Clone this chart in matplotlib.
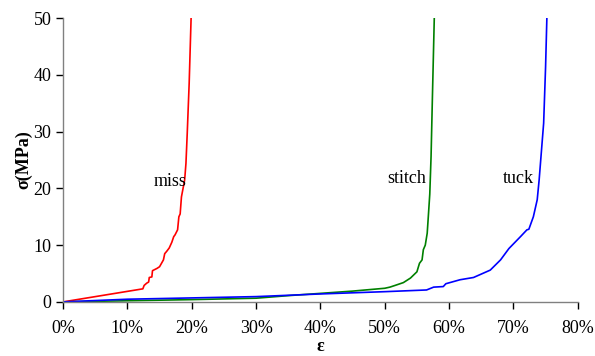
import matplotlib.pyplot as plt
from matplotlib.ticker import PercentFormatter

# strain (fraction) / stress (MPa)
miss_eps = [0.0, 0.124, 0.126, 0.130, 0.133, 0.134, 0.138, 0.139, 0.146, 0.150, 0.156,
            0.158, 0.161, 0.165, 0.169, 0.172, 0.174, 0.178, 0.180, 0.182, 0.184,
            0.186, 0.189, 0.191, 0.193, 0.196, 0.199]
miss_sig = [0.0, 2.3, 2.9, 3.3, 3.5, 4.3, 4.4, 5.5, 5.9, 6.2, 7.4,
            8.5, 8.9, 9.5, 10.5, 11.5, 11.8, 12.7, 15.0, 15.5, 18.5,
            19.7, 21.5, 24.4, 29.7, 38.5, 50.0]

stitch_eps = [0.0, 0.10, 0.20, 0.30, 0.35, 0.40, 0.45, 0.50, 0.508, 0.516, 0.529,
              0.540, 0.550, 0.554, 0.558, 0.560, 0.563, 0.566, 0.568, 0.570, 0.572,
              0.574, 0.577]
stitch_sig = [0.0, 0.2, 0.4, 0.65, 1.1, 1.5, 1.9, 2.4, 2.6, 2.9, 3.4,
              4.2, 5.3, 6.8, 7.4, 9.2, 10.0, 12.1, 15.5, 19.0, 25.6,
              35.6, 50.0]

tuck_eps = [0.0, 0.10, 0.20, 0.30, 0.40, 0.50, 0.565, 0.576, 0.591, 0.595, 0.617,
            0.638, 0.664, 0.680, 0.693, 0.711, 0.721, 0.724, 0.731, 0.737, 0.740,
            0.747, 0.750, 0.752]
tuck_sig = [0.0, 0.47, 0.7, 0.93, 1.4, 1.8, 2.1, 2.6, 2.7, 3.2, 3.9,
            4.3, 5.6, 7.4, 9.4, 11.5, 12.7, 12.8, 15.0, 18.0, 21.5,
            31.5, 41.4, 50.0]

plt.rcParams['font.family'] = ['Liberation Serif', 'DejaVu Serif']

fig = plt.figure(figsize=(5.95, 3.56), dpi=100)
ax = fig.add_axes([0.106, 0.152, 0.865, 0.797])

ax.plot(miss_eps, miss_sig, color='#ff0000', lw=1.2)
ax.plot(stitch_eps, stitch_sig, color='#008000', lw=1.2)
ax.plot(tuck_eps, tuck_sig, color='#0000ff', lw=1.2)

ax.text(0.166, 21.3, 'miss', fontsize=13, ha='center', va='center')
ax.text(0.534, 21.8, 'stitch', fontsize=13, ha='center', va='center')
ax.text(0.708, 21.8, 'tuck', fontsize=13, ha='center', va='center')

ax.set_xlim(0, 0.8)
ax.set_ylim(0, 50)
ax.set_xticks([i / 10 for i in range(9)])
ax.set_yticks(range(0, 51, 10))
ax.xaxis.set_major_formatter(PercentFormatter(1.0, decimals=0))

for s in ['top', 'right']:
    ax.spines[s].set_visible(False)
for s in ['left', 'bottom']:
    ax.spines[s].set_color('#808080')
    ax.spines[s].set_linewidth(1.0)
ax.tick_params(direction='out', length=5, width=1, colors='black', labelsize=13)
ax.tick_params(axis='x', pad=8)

ax.set_xlabel('ε', fontsize=13, fontweight='bold', labelpad=1)
ax.set_ylabel('σ(MPa)', fontsize=13, fontweight='bold', labelpad=1)

fig.savefig('out.png', dpi=100)
